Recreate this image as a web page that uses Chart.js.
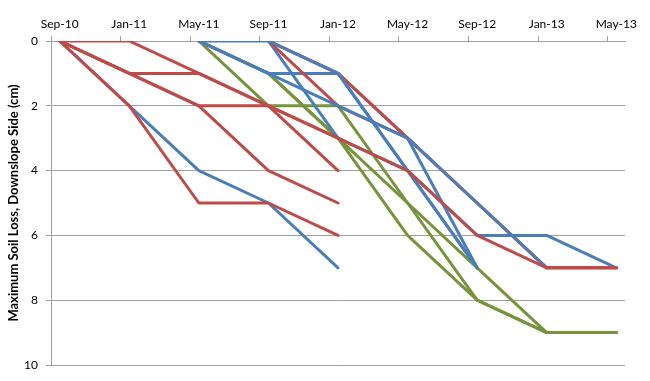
<!DOCTYPE html>
<html>
<head>
<meta charset="utf-8">
<script src="https://cdn.jsdelivr.net/npm/chart.js@4/dist/chart.umd.min.js"></script>
<style>
  html, body { margin: 0; padding: 0; background: #ffffff; }
  #wrap { width: 650px; height: 381px; }
</style>
</head>
<body>
<div id="wrap"><canvas id="c" width="650" height="381"></canvas></div>
<script>
// Measurement dates (one every 4 months)
const dateLabels = ['Sep-10','Jan-11','May-11','Sep-11','Jan-12','May-12','Sep-12','Jan-13','May-13'];
const monthsPerStep = 4;
const yTickValues = [0, 2, 4, 6, 8, 10];

// Series values (cm), one value per date, null = not measured
const redA  = [0, 0, 1, 2, 3, 4, 6, 7, 7];
const redB  = [0, 1, 1, 2, 4, null, null, null, null];
const redC  = [0, 1, 2, 2, 3, null, null, null, null];
const redD  = [0, 1, 2, 4, 5, null, null, null, null];
const redE  = [0, 2, 5, 5, 6, null, null, null, null];
const redF  = [null, null, null, 0, 2, 3, 5, 7, 7];
const redG  = [null, null, null, 0, 1, 3, 5, 7, 7];

const blueA = [0, 2, 4, 5, 7, null, null, null, null];
const blueB = [null, null, 0, 0, 1, 4, 7, null, null];
const blueC = [null, null, 0, 1, 1, 4, 7, null, null];
const blueD = [null, null, 0, 1, 2, 3, 5, 7, null];
const blueE = [null, null, null, 0, 3, 4, 6, 6, 7];
const blueF = [null, null, null, 0, 1, 3, 7, null, null];

const greenA = [null, null, 0, 1, 3, 6, 8, 9, 9];
const greenB = [null, null, 0, 2, 2, 5, 7, 9, 9];
const greenC = [null, null, 0, 1, 3, 5, 8, 9, 9];

const RED = '#BE4B48', BLUE = '#4A7EBB', GREEN = '#77933C';
const GRID = '#a0a0a0';

// first dataset is drawn on top
const seriesList = [
  [redA, RED], [redB, RED], [redC, RED], [redD, RED], [redE, RED],
  [blueD, BLUE], [blueB, BLUE], [redG, RED], [redF, RED],
  [blueF, BLUE], [blueC, BLUE], [blueE, BLUE], [blueA, BLUE],
  [greenA, GREEN], [greenB, GREEN], [greenC, GREEN]
];

function toPoints(vals) {
  const pts = [];
  vals.forEach((v, i) => { if (v !== null) pts.push({ x: i * monthsPerStep, y: v }); });
  return pts;
}

const datasets = seriesList.map(([vals, col]) => ({
  data: toPoints(vals),
  borderColor: col,
  backgroundColor: col,
  borderWidth: 3,
  pointRadius: 0,
  pointHoverRadius: 0,
  tension: 0,
  fill: false,
  borderJoinStyle: 'round',
  borderCapStyle: 'round'
}));

const xMin = -0.5, xMax = (dateLabels.length - 1) * monthsPerStep + 0.5;

new Chart(document.getElementById('c'), {
  type: 'line',
  data: { datasets },
  options: {
    responsive: false,
    animation: false,
    events: [],
    layout: { padding: { left: 0, right: 25, top: 0, bottom: 16 } },
    plugins: { legend: { display: false }, tooltip: { enabled: false } },
    scales: {
      x: {
        type: 'linear',
        position: 'top',
        min: xMin,
        max: xMax,
        afterBuildTicks: (scale) => {
          scale.ticks = dateLabels.map((l, i) => ({ value: i * monthsPerStep - 0.5 }));
        },
        afterFit: (scale) => { scale.height = 41; },
        ticks: {
          autoSkip: false,
          maxRotation: 0,
          padding: 5,
          labelOffset: 8.7,
          color: '#000',
          font: { family: 'Lato', size: 12 },
          callback: (v, i) => dateLabels[i]
        },
        grid: { drawOnChartArea: false, drawTicks: true, tickLength: 5, color: GRID, lineWidth: 1 },
        border: { display: true, color: GRID, width: 1 }
      },
      y: {
        type: 'linear',
        reverse: true,
        min: 0,
        max: 10,
        afterBuildTicks: (scale) => {
          scale.ticks = yTickValues.map(v => ({ value: v }));
        },
        afterFit: (scale) => { scale.width = 51; },
        ticks: {
          padding: 8,
          color: '#000',
          font: { family: 'Lato', size: 12 }
        },
        grid: { drawTicks: true, tickLength: 5, color: GRID, lineWidth: 1 },
        border: { display: true, color: GRID, width: 1 },
        title: {
          display: true,
          text: 'Maximum Soil Loss, Downslope Side (cm)',
          color: '#000',
          font: { family: 'Lato', size: 13, weight: 'bold' },
          padding: { top: 6, bottom: 0 }
        }
      }
    }
  }
});
</script>
</body>
</html>
